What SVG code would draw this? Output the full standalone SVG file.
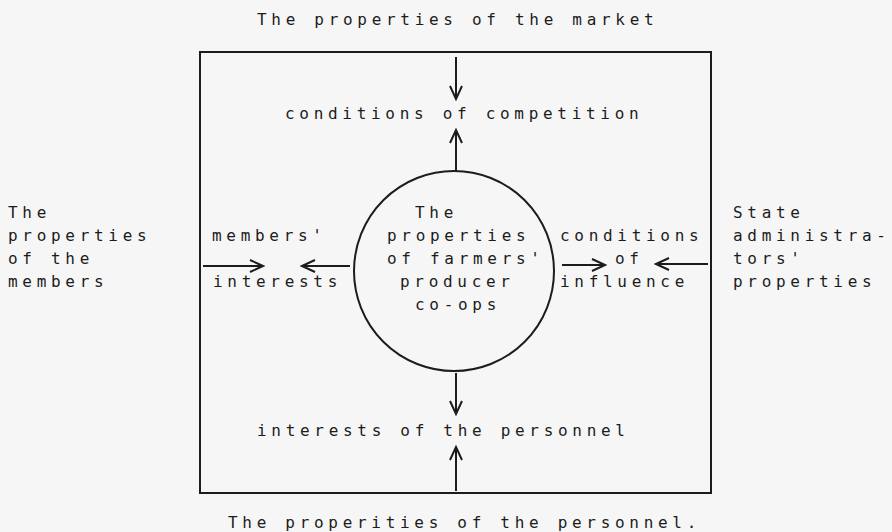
<svg xmlns="http://www.w3.org/2000/svg" width="892" height="532" viewBox="0 0 892 532">
<style>
text{font-family:"DejaVu Sans Mono","Liberation Mono",monospace;font-size:16px;fill:#1c1c1c;letter-spacing:4.7px}
.ln{stroke:#1c1c1c;stroke-width:2;fill:none}
</style>
<defs>
<marker id="ah" markerUnits="userSpaceOnUse" markerWidth="16" markerHeight="16" refX="14" refY="8" orient="auto">
<path d="M1,2 L14,8 L1,14" fill="none" stroke="#1c1c1c" stroke-width="2"/>
</marker>
</defs>
<rect width="892" height="532" fill="#f6f6f6"/>
<g id="frame"><rect class="ln" x="200" y="52" width="511" height="441" stroke-width="2.2"/></g>
<g id="market"><text x="257" y="25">The properties of the market</text></g>
<g id="competition"><text x="285" y="119">conditions of competition</text></g>
<g id="coops">
<circle class="ln" cx="454" cy="271" r="100"/>
<text x="415" y="218">The</text>
<text x="387" y="241">properties</text>
<text x="387" y="264">of farmers'</text>
<text x="400" y="287">producer</text>
<text x="415" y="310">co-ops</text>
</g>
<g id="members"><text x="8" y="218">The</text><text x="8" y="241">properties</text><text x="8" y="264">of the</text><text x="8" y="287">members</text></g>
<g id="interests"><text x="212" y="241">members'</text><text x="213" y="287">interests</text></g>
<g id="influence"><text x="560" y="241">conditions</text><text x="615" y="264">of</text><text x="560" y="287">influence</text></g>
<g id="state"><text x="733" y="218">State</text><text x="733" y="241">administra-</text><text x="733" y="264">tors'</text><text x="733" y="287">properties</text></g>
<g id="personnel-int"><text x="257" y="436">interests of the personnel</text></g>
<g id="personnel"><text x="228" y="528">The properities of the personnel.</text></g>
<g id="connectors" class="ln">
<line x1="456" y1="57" x2="456" y2="99" marker-end="url(#ah)"/>
<line x1="456" y1="172" x2="456" y2="130" marker-end="url(#ah)"/>
<line x1="456" y1="373" x2="456" y2="414" marker-end="url(#ah)"/>
<line x1="456" y1="491" x2="456" y2="447" marker-end="url(#ah)"/>
<line x1="203" y1="266" x2="263" y2="266" marker-end="url(#ah)"/>
<line x1="350" y1="266" x2="302" y2="266" marker-end="url(#ah)"/>
<line x1="562" y1="265" x2="605" y2="265" marker-end="url(#ah)"/>
<line x1="708" y1="264" x2="656" y2="264" marker-end="url(#ah)"/>
</g>
</svg>
